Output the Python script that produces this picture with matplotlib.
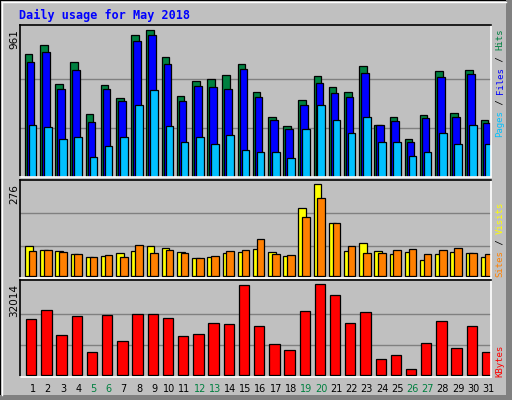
import matplotlib
matplotlib.use("Agg")
import matplotlib.pyplot as plt
from matplotlib.patches import Rectangle
from matplotlib.lines import Line2D

days = list(range(1, 32))
hits = [800, 859, 604, 748, 408, 597, 512, 924, 961, 781, 526, 624, 637, 663, 735, 552,
        388, 330, 499, 656, 584, 552, 722, 342, 388, 245, 401, 689, 414, 695, 369]
files = [752, 813, 571, 695, 356, 571, 493, 885, 924, 735, 493, 591, 584, 571, 702, 519,
         369, 316, 467, 611, 545, 519, 676, 336, 362, 231, 382, 650, 388, 669, 349]
pages = [342, 323, 251, 264, 133, 205, 258, 467, 565, 330, 225, 264, 212, 271, 173, 160,
         166, 127, 310, 467, 369, 290, 388, 225, 225, 140, 160, 284, 218, 336, 218]
visits = [90, 78, 75, 66, 57, 60, 69, 75, 90, 84, 72, 54, 57, 69, 72, 81,
          72, 60, 204, 276, 159, 75, 99, 75, 66, 72, 48, 66, 72, 69, 57]
sites = [75, 78, 72, 66, 57, 63, 57, 93, 69, 78, 69, 54, 60, 75, 78, 111,
         66, 63, 177, 234, 159, 90, 69, 69, 78, 81, 66, 78, 84, 69, 66]
kbytes = [19701, 22867, 14072, 20757, 8092, 21108, 11961, 21460, 21460, 20053, 13720,
          14424, 18294, 17942, 31662, 17238, 10906, 8795, 22515, 32014, 28144, 18294,
          22163, 5629, 7036, 2111, 11258, 18997, 9499, 17238, 8092]
weekend = [5, 6, 12, 13, 19, 20, 26, 27]

W, H = 512, 400
fig = plt.figure(figsize=(W / 100, H / 100), dpi=100)
fig.patch.set_facecolor("#C0C0C0")

def ax_px(x0, y0, x1, y1):
    return fig.add_axes([x0 / W, 1 - y1 / H, (x1 - x0) / W, (y1 - y0) / H])

# outer border
fig.add_artist(Rectangle((0, 0), 1, 1, transform=fig.transFigure, fill=False, ec="black", lw=1.5))
fig.add_artist(Rectangle((506 / W, 0), 6 / W, 1, transform=fig.transFigure, fc="#808080", ec="none"))
fig.add_artist(Rectangle((0, 0), 1, 5 / H, transform=fig.transFigure, fc="#808080", ec="none"))
fig.add_artist(Line2D([2 / W, 2 / W], [5 / H, 1 - 2 / H], transform=fig.transFigure, color="white", lw=1))
fig.add_artist(Line2D([2 / W, 506 / W], [1 - 2 / H, 1 - 2 / H], transform=fig.transFigure, color="white", lw=1))

X0, X1 = 20, 491
x = [d - 1 for d in days]

def style(ax, ymax, ymin, grid):
    ax.set_facecolor("#C0C0C0")
    ax.set_xlim(0, 31)
    ax.set_ylim(ymin, ymax)
    ax.set_xticks([]); ax.set_yticks([])
    for g in grid:
        ax.axhline(g, color="#808080", lw=1, zorder=0)
    ax.spines["top"].set_color("black"); ax.spines["left"].set_color("black")
    ax.spines["bottom"].set_color("white"); ax.spines["right"].set_color("white")
    for s in ax.spines.values():
        s.set_linewidth(1.2)

ax1 = ax_px(X0, 25, X1, 177)
style(ax1, 961 * 152 / 147.4, 0, [961 / 3, 961 * 2 / 3])
kw = dict(width=0.5, align="edge", edgecolor="black", linewidth=0.9)
ax1.bar([v + 0.32 for v in x], hits, color="#008040", **kw)
ax1.bar([v + 0.45 for v in x], files, color="#0000FF", **kw)
ax1.bar([v + 0.58 for v in x], pages, color="#00C0FF", **kw)

ax2 = ax_px(X0, 180, X1, 278)
style(ax2, 288, -6, [90, 189])
ax2.bar([v + 0.33 for v in x], visits, color="#FFFF00", **kw)
ax2.bar([v + 0.58 for v in x], sites, color="#FF8000", **kw)

ax3 = ax_px(X0, 280, X1, 377)
style(ax3, 33421, -704, [32014 / 3, 32014 * 2 / 3])
ax3.bar([v + 0.4 for v in x], kbytes, width=0.68, align="edge", color="#FF0000",
        edgecolor="black", linewidth=0.9)

# title
fig.text(19 / W, 1 - 15 / H, "Daily usage for May 2018", family="DejaVu Sans Mono",
         weight="bold", fontsize=8.5, color="#0000FF", va="center", ha="left")

# max labels
for ytop, lab in [(29, "961"), (184, "276"), (284, "32014")]:
    fig.text(14 / W, 1 - ytop / H, lab, rotation=90, fontsize=7.5, family="DejaVu Sans",
             va="top", ha="center", color="black")

# day labels
for d in days:
    xp = X0 + (d - 1 + 0.83) * (X1 - X0) / 31
    fig.text(xp / W, 1 - 389 / H, str(d), fontsize=7, ha="center", va="center",
             color="#008040" if d in weekend else "black")

def vlabel(pieces, ybot_px, xc=500, fs=6.5):
    cw = 0.6 * fs * 100 / 72
    y = ybot_px
    for txt, col in pieces:
        fig.text(xc / W, 1 - y / H, txt, rotation=90, family="DejaVu Sans Mono", fontsize=fs,
                 color=col, ha="center", va="bottom")
        y -= cw * len(txt)

vlabel([("Pages", "#00C0FF"), (" / ", "black"), ("Files", "#0000FF"), (" / ", "black"),
        ("Hits", "#008040")], 137)
vlabel([("Sites", "#FF8000"), (" / ", "black"), ("Visits", "#FFFF00")], 277)
vlabel([("KBytes", "#FF0000")], 377)

fig.savefig("out.png", dpi=100, facecolor=fig.get_facecolor())
